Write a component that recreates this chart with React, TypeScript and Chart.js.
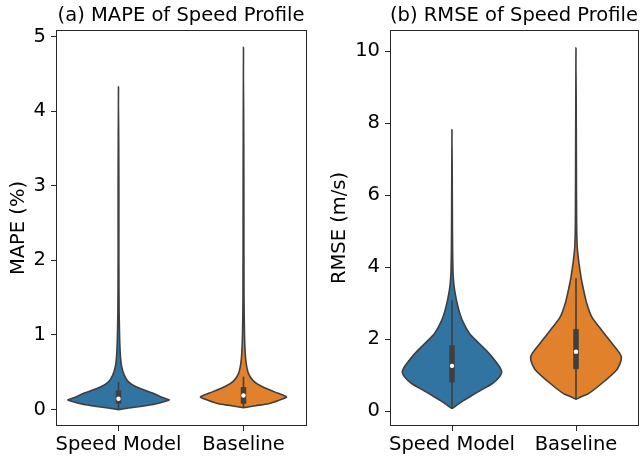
import React, { useEffect, useRef } from "react";
import { Chart, registerables } from "chart.js";

Chart.register(...registerables);

// ---------- data ----------
const CATEGORIES = ["Speed Model", "Baseline"];
const COLORS = ["#3274a1", "#e1812c"];

const MAPE_TICKS = [0, 1, 2, 3, 4, 5];
const RMSE_TICKS = [0, 2, 4, 6, 8, 10];

// violin outlines: values along y and half-widths (in category units)
const MAPE_SPEED_VALUES = [-0.005, 0.02, 0.04, 0.077, 0.11, 0.13, 0.16, 0.22, 0.3, 0.37, 0.46, 0.57, 0.7, 0.9, 1.3, 2.0, 3.0, 4.33];
const MAPE_SPEED_WIDTHS = [0, 0.08, 0.176, 0.304, 0.376, 0.405, 0.352, 0.272, 0.144, 0.08, 0.046, 0.026, 0.016, 0.01, 0.005, 0.003, 0.003, 0];
const MAPE_BASE_VALUES = [0.023, 0.05, 0.077, 0.12, 0.165, 0.19, 0.22, 0.31, 0.38, 0.48, 0.61, 0.75, 1.0, 1.5, 3.0, 4.86];
const MAPE_BASE_WIDTHS = [0, 0.096, 0.2, 0.28, 0.344, 0.32, 0.272, 0.144, 0.08, 0.04, 0.022, 0.014, 0.008, 0.004, 0.003, 0];

const RMSE_SPEED_VALUES = [0.07, 0.15, 0.3, 0.45, 0.58, 0.77, 0.95, 1.09, 1.2, 1.32, 1.6, 1.88, 2.16, 2.53, 2.9, 3.36, 3.73, 4.4, 5.5, 7.82];
const RMSE_SPEED_WIDTHS = [0, 0.032, 0.095, 0.167, 0.231, 0.326, 0.382, 0.401, 0.39, 0.366, 0.3, 0.22, 0.141, 0.082, 0.048, 0.021, 0.01, 0.005, 0.003, 0];
const RMSE_BASE_VALUES = [0.33, 0.4, 0.49, 0.77, 1.14, 1.35, 1.49, 1.6, 1.79, 2.25, 2.62, 2.99, 3.45, 3.73, 4.19, 4.56, 5.2, 7.0, 10.09];
const RMSE_BASE_WIDTHS = [0, 0.04, 0.101, 0.207, 0.326, 0.358, 0.366, 0.354, 0.312, 0.207, 0.127, 0.087, 0.056, 0.04, 0.021, 0.01, 0.005, 0.003, 0];

// inner box statistics per category
const MAPE_WHISKER_LOW = [0.0, 0.023];
const MAPE_WHISKER_HIGH = [0.367, 0.44];
const MAPE_Q1 = [0.077, 0.077];
const MAPE_Q3 = [0.255, 0.3];
const MAPE_MEDIAN = [0.144, 0.188];

const RMSE_WHISKER_LOW = [0.07, 0.33];
const RMSE_WHISKER_HIGH = [3.08, 3.69];
const RMSE_Q1 = [0.8, 1.17];
const RMSE_Q3 = [1.83, 2.28];
const RMSE_MEDIAN = [1.26, 1.65];

// ---------- styling ----------
const FONT = "'DejaVu Sans', 'Liberation Sans', sans-serif";
const FS = 19.5;
const GRAY = "#3f3f3f";

type PanelProps = {
  title: string;
  yLabel: string;
  yMin: number;
  yMax: number;
  yTicks: number[];
  violinValues: number[][];
  violinWidths: number[][];
  wLow: number[];
  wHigh: number[];
  q1: number[];
  q3: number[];
  med: number[];
  left: number;
  width: number;
  yAxisWidth: number;
  padRight: number;
  yTitlePad: number;
};

const framePlugin = {
  id: "frame",
  afterDraw(chart: any) {
    const { ctx, chartArea: a } = chart;
    ctx.save();
    ctx.strokeStyle = "#262626";
    ctx.lineWidth = 1;
    ctx.strokeRect(a.left + 0.5, a.top + 0.5, a.right - a.left, a.bottom - a.top - 1);
    ctx.restore();
  },
};

function Panel(p: PanelProps) {
  const ref = useRef<HTMLCanvasElement>(null);
  useEffect(() => {
    if (!ref.current) return;
    const datasets: any[] = [];
    for (let i = 0; i < CATEGORIES.length; i++) {
      const vals = p.violinValues[i];
      const ws = p.violinWidths[i];
      const right = vals.map((v, k) => ({ x: i + ws[k], y: v }));
      const leftSide = vals
        .map((v, k) => ({ x: i - ws[k], y: v }))
        .slice(0, -1)
        .reverse();
      datasets.push({
        data: [...right, ...leftSide],
        showLine: true,
        fill: "shape",
        backgroundColor: COLORS[i],
        borderColor: GRAY,
        borderWidth: 1.6,
        borderJoinStyle: "round",
        pointRadius: 0,
        tension: 0.25,
        order: 3,
      });
      datasets.push({
        data: [
          { x: i, y: p.wLow[i] },
          { x: i, y: p.wHigh[i] },
        ],
        showLine: true,
        fill: false,
        borderColor: GRAY,
        borderWidth: 1.6,
        pointRadius: 0,
        order: 2,
      });
      datasets.push({
        data: [
          { x: i, y: p.q1[i] },
          { x: i, y: p.q3[i] },
        ],
        showLine: true,
        fill: false,
        borderColor: GRAY,
        borderWidth: 5.5,
        borderCapStyle: "butt",
        pointRadius: 0,
        order: 1,
      });
      datasets.push({
        data: [{ x: i, y: p.med[i] }],
        showLine: false,
        pointRadius: 2.2,
        pointBackgroundColor: "#ffffff",
        pointBorderWidth: 0,
        order: 0,
      });
    }

    const tickFont = { family: FONT, size: FS };
    const chart = new Chart(ref.current, {
      type: "scatter",
      data: { datasets },
      plugins: [framePlugin],
      options: {
        animation: false,
        responsive: false,
        devicePixelRatio: 1,
        layout: { padding: { left: 0, right: p.padRight, top: 0, bottom: 0 } },
        plugins: {
          legend: { display: false },
          tooltip: { enabled: false },
          title: {
            display: true,
            text: p.title,
            fullSize: false,
            color: "#000",
            font: { family: FONT, size: FS, weight: "normal", lineHeight: 1.2 },
            padding: { top: 4, bottom: 2.6 },
          },
        },
        scales: {
          x: {
            type: "linear",
            min: -0.5,
            max: 1.5,
            afterBuildTicks: (scale: any) => {
              scale.ticks = CATEGORIES.map((_, i) => ({ value: i }));
            },
            afterFit: (scale: any) => {
              scale.height = 32;
            },
            ticks: {
              autoSkip: false,
              maxRotation: 0,
              padding: 2,
              color: "#000",
              font: tickFont,
              callback: (v: any) => CATEGORIES[Math.round(Number(v))] ?? "",
            },
            grid: {
              display: true,
              drawOnChartArea: false,
              drawTicks: true,
              tickLength: 5,
              tickColor: "#262626",
              color: "#262626",
            },
            border: { display: false },
          },
          y: {
            type: "linear",
            min: p.yMin,
            max: p.yMax,
            afterBuildTicks: (scale: any) => {
              scale.ticks = p.yTicks.map((v) => ({ value: v }));
            },
            afterFit: (scale: any) => {
              scale.width = p.yAxisWidth;
            },
            ticks: {
              autoSkip: false,
              padding: 5,
              color: "#000",
              font: tickFont,
              callback: (v: any) => String(v),
            },
            grid: {
              display: true,
              drawOnChartArea: false,
              drawTicks: true,
              tickLength: 5,
              tickColor: "#262626",
              color: "#262626",
            },
            border: { display: false },
            title: {
              display: true,
              text: p.yLabel,
              color: "#000",
              font: { family: FONT, size: FS, lineHeight: 1.2 },
              padding: { top: p.yTitlePad, bottom: 0 },
            },
          },
        },
      } as any,
    });
    return () => chart.destroy();
  }, []);

  return (
    <div style={{ position: "absolute", left: p.left, top: 0, width: p.width, height: 458 }}>
      <canvas ref={ref} width={p.width} height={458} style={{ display: "block" }} />
    </div>
  );
}

export default function App() {
  return (
    <div
      style={{
        position: "fixed",
        left: 0,
        top: 0,
        width: 642,
        height: 458,
        background: "#ffffff",
        overflow: "hidden",
      }}
    >
      <Panel
        title="(a) MAPE of Speed Profile"
        yLabel="MAPE (%)"
        yMin={-0.222}
        yMax={5.09}
        yTicks={MAPE_TICKS}
        violinValues={[MAPE_SPEED_VALUES, MAPE_BASE_VALUES]}
        violinWidths={[MAPE_SPEED_WIDTHS, MAPE_BASE_WIDTHS]}
        wLow={MAPE_WHISKER_LOW}
        wHigh={MAPE_WHISKER_HIGH}
        q1={MAPE_Q1}
        q3={MAPE_Q3}
        med={MAPE_MEDIAN}
        left={0}
        width={320}
        yAxisWidth={56}
        padRight={14}
        yTitlePad={6.8}
      />
      <Panel
        title="(b) RMSE of Speed Profile"
        yLabel="RMSE (m/s)"
        yMin={-0.41}
        yMax={10.585}
        yTicks={RMSE_TICKS}
        violinValues={[RMSE_SPEED_VALUES, RMSE_BASE_VALUES]}
        violinWidths={[RMSE_SPEED_WIDTHS, RMSE_BASE_WIDTHS]}
        wLow={RMSE_WHISKER_LOW}
        wHigh={RMSE_WHISKER_HIGH}
        q1={RMSE_Q1}
        q3={RMSE_Q3}
        med={RMSE_MEDIAN}
        left={320}
        width={322}
        yAxisWidth={70}
        padRight={1}
        yTitlePad={8.3}
      />
    </div>
  );
}
